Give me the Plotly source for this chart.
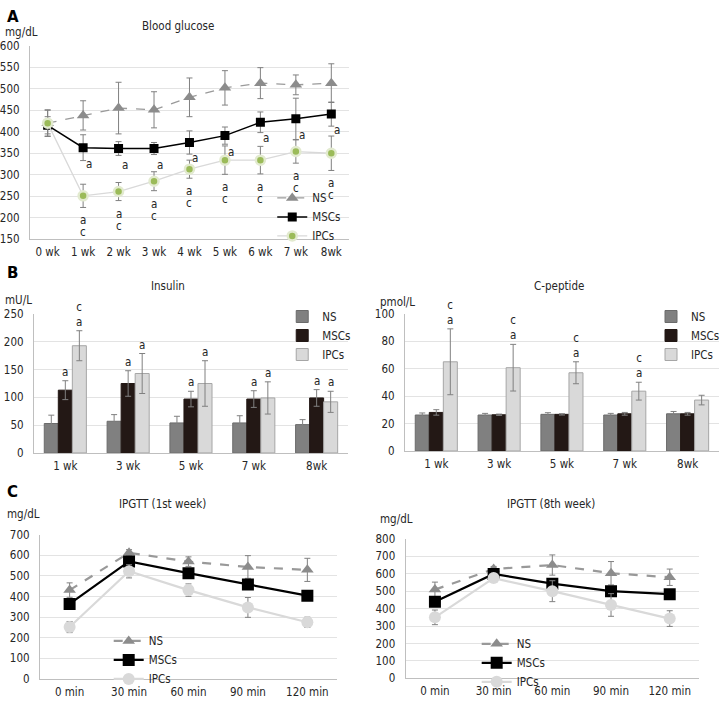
import plotly.graph_objects as go

# ---------------- data ----------------
weeks_a = ["0 wk", "1 wk", "2 wk", "3 wk", "4 wk", "5 wk", "6 wk", "7 wk", "8wk"]
ns_glu = [420, 438, 455, 451, 480, 502, 513, 509, 513]
ns_glu_err = [31, 34, 60, 42, 45, 40, 36, 23, 45]
msc_glu = [415, 363, 361, 361, 375, 391, 422, 430, 441]
msc_glu_err = [20, 30, 16, 14, 27, 20, 24, 48, 28]
ipc_glu = [420, 251, 261, 285, 313, 334, 334, 354, 350]
ipc_glu_err = [30, 27, 21, 22, 21, 33, 32, 27, 40]
msc_glu_sig = ["", "a", "a", "a", "a", "a", "a", "a", "a"]
ipc_glu_sig = ["", "ac", "ac", "ac", "ac", "ac", "ac", "ac", "ac"]

weeks_b = ["1 wk", "3 wk", "5 wk", "7 wk", "8wk"]
ns_ins = [53, 57, 54, 54, 51]
ns_ins_err = [15, 12, 12, 13, 9]
msc_ins = [113, 125, 97, 97, 99]
msc_ins_err = [17, 23, 14, 15, 15]
ipc_ins = [193, 143, 125, 99, 92]
ipc_ins_err = [27, 36, 41, 29, 19]
msc_ins_sig = ["a", "a", "a", "a", "a"]
ipc_ins_sig = ["ca", "a", "a", "a", "a"]

ns_cp = [26.2, 26.2, 26.7, 26.2, 27.1]
ns_cp_err = [1.5, 1.2, 1.2, 1.2, 1.7]
msc_cp = [28.1, 26.4, 26.7, 27.1, 27.1]
msc_cp_err = [2.0, 0.5, 0.5, 1.0, 1.0]
ipc_cp = [65, 60.7, 57, 43.6, 37.1]
ipc_cp_err = [24, 17, 8, 6.5, 3.5]
ipc_cp_sig = ["ca", "ca", "ca", "ca", ""]

times = ["0 min", "30 min", "60 min", "90 min", "120 min"]
ns_g1 = [431, 612, 569, 543, 529]
ns_g1_err = [35, 15, 23, 55, 56]
msc_g1 = [364, 570, 513, 458, 404]
msc_g1_err = [25, 20, 15, 15, 12]
ipc_g1 = [252, 522, 431, 347, 275]
ipc_g1_err = [27, 32, 30, 48, 25]

ns_g8 = [509, 627, 650, 603, 580]
ns_g8_err = [43, 15, 58, 67, 47]
msc_g8 = [440, 599, 543, 500, 483]
msc_g8_err = [25, 20, 30, 20, 20]
ipc_g8 = [350, 575, 500, 421, 343]
ipc_g8_err = [42, 20, 60, 65, 45]

# ---------------- style ----------------
W, H = 725, 703
FONT = "DejaVu Sans Condensed, Liberation Sans, sans-serif"
FS = 11.5
TXT = "#262626"
GRID = "#e3e3e3"
AXL = "#bfbfbf"
ERR = dict(color="#808080", thickness=1, width=3)
NS_C = "#8c8c8c"
MSC_C = "#000000"
IPC_LINE = "#d9d9d9"
BAR_GAP = 0.33


def fx(p):
    return p / W


def fy(p):
    return 1 - p / H


fig = go.Figure()

# ---------------- Panel A ----------------
fig.add_trace(go.Scatter(x=weeks_a, y=ns_glu, name="NS", mode="lines+markers",
                         error_y=dict(array=ns_glu_err, **ERR),
                         line=dict(color="#9a9a9a", dash="dash", width=1.3),
                         marker=dict(symbol="triangle-up", size=11, color=NS_C),
                         xaxis="x", yaxis="y", legend="legend"))
fig.add_trace(go.Scatter(x=weeks_a, y=msc_glu, name="MSCs", mode="lines+markers",
                         error_y=dict(array=msc_glu_err, **ERR),
                         line=dict(color=MSC_C, width=1.5),
                         marker=dict(symbol="square", size=9, color=MSC_C),
                         xaxis="x", yaxis="y", legend="legend"))
fig.add_trace(go.Scatter(x=weeks_a, y=ipc_glu, name="IPCs", mode="lines+markers",
                         error_y=dict(array=ipc_glu_err, **ERR),
                         line=dict(color=IPC_LINE, width=1.3),
                         marker=dict(symbol="circle", size=9, color="#9bbb59",
                                     line=dict(color="#e2eacf", width=2.5)),
                         xaxis="x", yaxis="y", legend="legend"))

# ---------------- Panel B ----------------
def bars(xa, ya, leg, ns, nse, ms, mse, ip, ipe):
    fig.add_trace(go.Bar(x=weeks_b, y=ns, name="NS", error_y=dict(array=nse, **ERR),
                         marker=dict(color="#808080", line=dict(color="#6b6b6b", width=1)),
                         xaxis=xa, yaxis=ya, legend=leg))
    fig.add_trace(go.Bar(x=weeks_b, y=ms, name="MSCs", error_y=dict(array=mse, **ERR),
                         marker=dict(color="#231815", line=dict(color="#231815", width=1)),
                         xaxis=xa, yaxis=ya, legend=leg))
    fig.add_trace(go.Bar(x=weeks_b, y=ip, name="IPCs", error_y=dict(array=ipe, **ERR),
                         marker=dict(color="#d9d9d9", line=dict(color="#a6a6a6", width=1)),
                         xaxis=xa, yaxis=ya, legend=leg))


bars("x2", "y2", "legend2", ns_ins, ns_ins_err, msc_ins, msc_ins_err, ipc_ins, ipc_ins_err)
bars("x3", "y3", "legend3", ns_cp, ns_cp_err, msc_cp, msc_cp_err, ipc_cp, ipc_cp_err)

# ---------------- Panel C ----------------
def ipgtt(xa, ya, leg, ns, nse, ms, mse, ip, ipe):
    fig.add_trace(go.Scatter(x=times, y=ns, name="NS", mode="lines+markers",
                             error_y=dict(array=nse, **ERR),
                             line=dict(color="#999999", dash="dash", width=2.2),
                             marker=dict(symbol="triangle-up", size=11, color=NS_C),
                             xaxis=xa, yaxis=ya, legend=leg))
    fig.add_trace(go.Scatter(x=times, y=ms, name="MSCs", mode="lines+markers",
                             error_y=dict(array=mse, **ERR),
                             line=dict(color=MSC_C, width=2.2),
                             marker=dict(symbol="square", size=12, color=MSC_C),
                             xaxis=xa, yaxis=ya, legend=leg))
    fig.add_trace(go.Scatter(x=times, y=ip, name="IPCs", mode="lines+markers",
                             error_y=dict(array=ipe, **ERR),
                             line=dict(color=IPC_LINE, width=2.2),
                             marker=dict(symbol="circle", size=12, color="#d9d9d9"),
                             xaxis=xa, yaxis=ya, legend=leg))


ipgtt("x4", "y4", "legend4", ns_g1, ns_g1_err, msc_g1, msc_g1_err, ipc_g1, ipc_g1_err)
ipgtt("x5", "y5", "legend5", ns_g8, ns_g8_err, msc_g8, msc_g8_err, ipc_g8, ipc_g8_err)

# ---------------- axes ----------------
tf = dict(family=FONT, size=FS, color=TXT)


def xax(dom, anchor, n):
    return dict(domain=[fx(dom[0]), fx(dom[1])], anchor=anchor, type="category",
                range=[-0.5, n - 0.5], showline=True, linecolor=AXL, linewidth=1,
                showgrid=False, zeroline=False, ticks="", tickfont=tf,
                ticklabelstandoff=2, fixedrange=True)


def yax(dom, anchor, rng, dt):
    return dict(domain=[fy(dom[1]), fy(dom[0])], anchor=anchor, range=rng, dtick=dt,
                showline=True, linecolor=AXL, linewidth=1, showgrid=True,
                gridcolor=GRID, gridwidth=1, zeroline=False, ticks="", tickfont=tf,
                ticklabelstandoff=7, fixedrange=True)


layout_axes = dict(
    xaxis=xax((29, 349), "y", 9),
    yaxis=yax((39.5, 237), "x", [150, 600], 50),
    xaxis2=xax((33, 348), "y2", 5),
    yaxis2=yax((313.3, 455), "x2", [0, 250], 50),
    xaxis3=xax((405, 720), "y3", 5),
    yaxis3=yax((313, 453), "x3", [0, 100], 20),
    xaxis4=xax((39, 337), "y4", 5),
    yaxis4=yax((538.3, 685.7), "x4", [0, 700], 100),
    xaxis5=xax((405.7, 700), "y5", 5),
    yaxis5=yax((542.7, 685), "x5", [0, 800], 100),
)


def leg(x, y):
    return dict(x=fx(x), y=fy(y), xanchor="left", yanchor="top",
                bgcolor="rgba(0,0,0,0)", font=dict(family=FONT, size=FS, color=TXT),
                tracegroupgap=0, itemclick=False, itemdoubleclick=False)


# ---------------- annotations ----------------
ann = []
af = dict(family=FONT, size=FS, color=TXT)
for i, w in enumerate(weeks_a):
    if msc_glu_sig[i]:
        ann.append(dict(x=w, y=msc_glu[i], xref="x", yref="y", text=msc_glu_sig[i],
                        showarrow=False, font=af, xshift=6, yshift=-16))
    for k, ch in enumerate(ipc_glu_sig[i]):
        ann.append(dict(x=w, y=ipc_glu[i] - ipc_glu_err[i], xref="x", yref="y", text=ch,
                        showarrow=False, font=af, yshift=-13 - 12 * k))

bar_px_ins = (348 - 33) / 5 * (1 - BAR_GAP) / 3
bar_px_cp = (720 - 405) / 5 * (1 - BAR_GAP) / 3
for i, w in enumerate(weeks_b):
    ann.append(dict(x=w, y=msc_ins[i] + msc_ins_err[i], xref="x2", yref="y2",
                    text=msc_ins_sig[i], showarrow=False, font=af, yanchor="bottom", yshift=0))
    ann.append(dict(x=w, y=ipc_ins[i] + ipc_ins_err[i], xref="x2", yref="y2",
                    text="<br>".join(ipc_ins_sig[i]), showarrow=False, font=af,
                    yanchor="bottom", xshift=bar_px_ins, yshift=0))
    if ipc_cp_sig[i]:
        ann.append(dict(x=w, y=ipc_cp[i] + ipc_cp_err[i], xref="x3", yref="y3",
                        text="<br>".join(ipc_cp_sig[i]), showarrow=False, font=af,
                        yanchor="bottom", xshift=bar_px_cp, yshift=0))

labels = [
    ("A", 4, 10, 15, True, "left"), ("B", 4, 271, 15, True, "left"), ("C", 4, 495, 15, True, "left"),
    ("Blood glucose", 177, 19, FS, False, "center"),
    ("mg/dL", 2, 25, FS, False, "left"),
    ("Insulin", 167, 285, FS, False, "center"),
    ("mU/L", 2, 299, FS, False, "left"),
    ("C-peptide", 560, 285, FS, False, "center"),
    ("pmol/L", 378, 301, FS, False, "left"),
    ("IPGTT (1st week)", 162, 507, FS, False, "center"),
    ("mg/dL", 4, 517, FS, False, "left"),
    ("IPGTT (8th week)", 552, 507, FS, False, "center"),
    ("mg/dL", 378, 522, FS, False, "left"),
]
for t, x, y, s, b, xa in labels:
    ann.append(dict(x=fx(x), y=fy(y), xref="paper", yref="paper", showarrow=False,
                    text=f"<b>{t}</b>" if b else t, xanchor=xa, yanchor="middle",
                    font=dict(family="DejaVu Sans, sans-serif" if b else FONT, size=s,
                              color="#000" if b else TXT)))

fig.update_layout(
    width=W, height=H, margin=dict(l=0, r=0, t=0, b=0),
    paper_bgcolor="white", plot_bgcolor="white",
    barmode="group", bargap=BAR_GAP, bargroupgap=0,
    hovermode=False,
    font=dict(family=FONT, size=FS, color=TXT),
    legend=leg(272, 180), legend2=leg(282, 301), legend3=leg(652, 301),
    legend4=leg(108, 632), legend5=leg(477, 635),
    annotations=ann,
    **layout_axes,
)

fig.write_html("out.html", config={"displayModeBar": False, "staticPlot": True},
               post_script="document.body.style.margin='0';")
